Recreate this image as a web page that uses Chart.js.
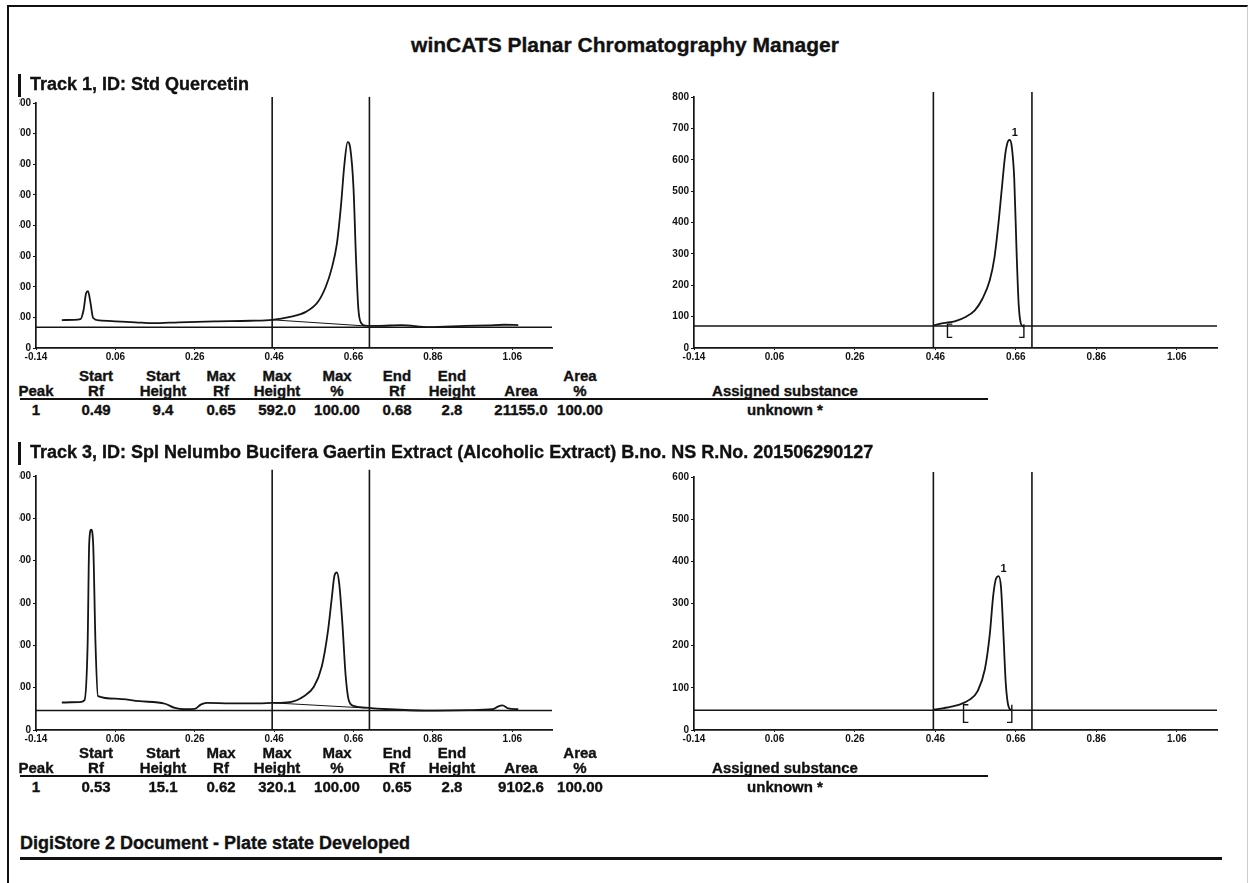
<!DOCTYPE html>
<html>
<head>
<meta charset="utf-8">
<script src="https://cdn.jsdelivr.net/npm/chart.js@4.4.0/dist/chart.umd.min.js"></script>
<style>
  body { margin: 0; width: 1250px; height: 883px; background: #fff; position: relative; overflow: hidden;
         font-family: "Liberation Sans", Arial, sans-serif; color: #111; }
  .frame { position: absolute; left: 7px; top: 5px; width: 1238px; height: 900px;
           border-left: 2px solid #111; border-top: 2px solid #111; border-right: 1px solid #ccc; }
  .txt { position: absolute; white-space: nowrap; font-weight: bold; -webkit-text-stroke: 0.35px #111; }
  .bar { position: absolute; left: 18px; width: 3px; background: #111; }
  .rule { position: absolute; background: #111; }
  canvas { position: absolute; }
</style>
</head>
<body>
<div class="frame"></div>
<canvas id="t1raw"></canvas>
<canvas id="t1peak"></canvas>
<canvas id="t3raw"></canvas>
<canvas id="t3peak"></canvas>

<script>
// Texts
const pageTitle = "winCATS Planar Chromatography Manager";
const track1Title = "Track 1, ID: Std Quercetin";
const track3Title = "Track 3, ID: Spl Nelumbo Bucifera Gaertin Extract (Alcoholic Extract) B.no. NS R.No. 201506290127";
const footerTitle = "DigiStore 2 Document - Plate state Developed";

// Axis ticks (Rf)
const xMin = -0.14;
const xMax = 1.16;
const xTicks = [-0.14, 0.06, 0.26, 0.46, 0.66, 0.86, 1.06];

// Integration window (vertical lines, Rf)
const windowRf = [0.455, 0.70];

// Track 1 - full scan
const t1RawRf  = [-0.075, -0.045, -0.028, -0.02, -0.014, -0.009, -0.003, 0.004, 0.02, 0.06, 0.11, 0.155, 0.22, 0.31, 0.40, 0.455,
                  0.50, 0.54, 0.57, 0.59, 0.605, 0.618, 0.628, 0.637, 0.645, 0.652, 0.66, 0.666, 0.672, 0.68, 0.69,
                  0.72, 0.78, 0.85, 0.94, 1.0, 1.04, 1.075];
const t1RawAU  = [91, 92, 94, 125, 178, 186, 150, 98, 90, 87, 84, 81, 84, 87, 89, 92,
                  102, 118, 150, 200, 260, 340, 460, 600, 672, 650, 520, 300, 130, 80, 73,
                  72, 75, 68, 72, 74, 76, 75];
const t1Baseline = 68;
const t1PeakBaseRf = [0.455, 0.69];
const t1PeakBaseAU = [92, 72];

// Track 1 - integrated peak
const t1PeakRf = [0.455, 0.48, 0.51, 0.535, 0.558, 0.577, 0.595, 0.607, 0.617, 0.626, 0.634, 0.641, 0.645, 0.65, 0.656, 0.662, 0.667, 0.672, 0.677, 0.68];
const t1PeakAU = [72, 79, 86, 99, 120, 157, 215, 290, 400, 520, 620, 660, 663, 640, 540, 300, 140, 80, 70, 67];
const t1PeakBaseline = 70;
const t1Bracket = { startRf: 0.49, endRf: 0.68, top: 76, bottom: 34 };
const t1PeakLabel = { rf: 0.645, value: 663, text: "1" };

// Track 3 - full scan
const t3RawRf = [-0.075, -0.03, -0.018, -0.01, -0.006, -0.001, 0.004, 0.01, 0.016, 0.06, 0.12, 0.185, 0.21, 0.235, 0.26, 0.275, 0.29,
                 0.35, 0.42, 0.455, 0.50, 0.535, 0.56, 0.58, 0.595, 0.605, 0.612, 0.618, 0.624, 0.632, 0.64, 0.648, 0.66,
                 0.69, 0.75, 0.84, 0.95, 1.01, 1.025, 1.035, 1.05, 1.075];
const t3RawAU = [65, 66, 70, 200, 440, 473, 440, 200, 80, 74, 68, 62, 52, 49, 50, 60, 64,
                 63, 63, 64, 66, 80, 102, 150, 230, 310, 365, 372, 345, 250, 130, 70, 57,
                 53, 49, 46, 47, 49, 56, 58, 51, 49];
const t3Baseline = 46;
const t3PeakBaseRf = [0.46, 0.69];
const t3PeakBaseAU = [64, 52];

// Track 3 - integrated peak
const t3PeakRf = [0.455, 0.497, 0.52, 0.545, 0.565, 0.583, 0.595, 0.604, 0.611, 0.617, 0.623, 0.629, 0.635, 0.642, 0.65];
const t3PeakAU = [48, 55, 60, 72, 92, 144, 225, 321, 360, 365, 340, 230, 110, 55, 46];
const t3PeakBaseline = 47;
const t3Bracket = { startRf: 0.53, endRf: 0.65, top: 60, bottom: 18 };
const t3PeakLabel = { rf: 0.617, value: 365, text: "1" };

// Peak tables
const tableHead1 = ["", "Start", "Start", "Max", "Max", "Max", "End", "End", "", "Area", ""];
const tableHead2 = ["Peak", "Rf", "Height", "Rf", "Height", "%", "Rf", "Height", "Area", "%", "Assigned substance"];
const track1Row  = ["1", "0.49", "9.4", "0.65", "592.0", "100.00", "0.68", "2.8", "21155.0", "100.00", "unknown *"];
const track3Row  = ["1", "0.53", "15.1", "0.62", "320.1", "100.00", "0.65", "2.8", "9102.6", "100.00", "unknown *"];

// ---- layout ----
const colX  = [36, 96, 163, 221, 277, 337, 397, 452, 521, 580, 785];
const FONT = '"Liberation Sans", Arial, sans-serif';

function addText(text, x, y, size, align) {
    const d = document.createElement("div");
    d.className = "txt";
    d.textContent = text;
    d.style.fontSize = size + "px";
    d.style.lineHeight = size + "px";
    d.style.top = (y - size / 2) + "px";
    if (align === "center") {
        d.style.left = (x - 300) + "px";
        d.style.width = "600px";
        d.style.textAlign = "center";
    } else {
        d.style.left = x + "px";
    }
    document.body.appendChild(d);
}

function addBox(cls, x, y, w, h) {
    const d = document.createElement("div");
    d.className = cls;
    d.style.left = x + "px";
    d.style.top = y + "px";
    d.style.width = w + "px";
    d.style.height = h + "px";
    document.body.appendChild(d);
}

function drawTable(row, yTop) {
    tableHead1.forEach((t, i) => { if (t) addText(t, colX[i], yTop, 15, "center"); });
    tableHead2.forEach((t, i) => addText(t, colX[i], yTop + 15, 15, "center"));
    addBox("rule", 20, yTop + 23, 968, 2);
    row.forEach((t, i) => addText(t, colX[i], yTop + 34, 15, "center"));
}

addText(pageTitle, 625, 44, 21, "center");
addBox("bar", 18, 74, 3, 23);
addText(track1Title, 30, 84, 18, "left");
drawTable(track1Row, 375);
addBox("bar", 18, 442, 3, 23);
addText(track3Title, 30, 452, 18, "left");
drawTable(track3Row, 752);
addText(footerTitle, 20, 843, 18, "left");
addBox("rule", 20, 857, 1202, 3);

// ---- charts ----
const peakLabelPlugin = {
    id: "peakLabel",
    afterDatasetsDraw(chart, args, opts) {
        if (!opts || opts.text === undefined) return;
        const { ctx, scales: { x, y } } = chart;
        ctx.save();
        ctx.font = "bold 11px " + FONT;
        ctx.fillStyle = "#111";
        ctx.textAlign = "center";
        ctx.textBaseline = "bottom";
        ctx.fillText(opts.text, x.getPixelForValue(opts.rf) + 5, y.getPixelForValue(opts.value) - 2);
        ctx.restore();
    }
};

function pts(xs, ys) {
    return xs.map((v, i) => ({ x: v, y: ys[i] }));
}

function lineSet(data, width, extra) {
    return Object.assign({
        data: data,
        borderColor: "#151515",
        borderWidth: width,
        pointRadius: 0,
        fill: false,
        clip: false
    }, extra || {});
}

function windowSets(top) {
    return windowRf.map(rf => lineSet([{ x: rf, y: 0 }, { x: rf, y: top }], 1.6));
}

function bracketSets(b) {
    const w = 0.012;
    return [
        lineSet([{ x: b.startRf + w, y: b.top }, { x: b.startRf, y: b.top }, { x: b.startRf, y: b.bottom }, { x: b.startRf + w, y: b.bottom }], 1.4),
        lineSet([{ x: b.endRf - w, y: b.bottom }, { x: b.endRf, y: b.bottom }, { x: b.endRf, y: b.top }], 1.4)
    ];
}

function makeChart(id, box, yMax, yWidth, datasets, label) {
    const cv = document.getElementById(id);
    cv.width = box.w;
    cv.height = box.h;
    cv.style.left = box.x + "px";
    cv.style.top = box.y + "px";
    cv.style.width = box.w + "px";
    cv.style.height = box.h + "px";
    const tickFont = { family: FONT, size: 10, weight: "bold" };
    return new Chart(cv, {
        type: "line",
        data: { datasets: datasets },
        options: {
            responsive: false,
            animation: false,
            events: [],
            layout: { padding: { top: box.padTop, right: 10, left: 0, bottom: 0 } },
            plugins: {
                legend: { display: false },
                tooltip: { enabled: false },
                peakLabel: label || {}
            },
            scales: {
                x: {
                    type: "linear",
                    min: xMin,
                    max: xMax,
                    afterBuildTicks: s => { s.ticks = xTicks.map(v => ({ value: v })); },
                    afterFit: s => { s.height = 17; },
                    border: { color: "#151515", width: 1.7 },
                    grid: { drawOnChartArea: false, tickLength: 2, color: "#151515" },
                    ticks: { autoSkip: false, maxRotation: 0, padding: 1, color: "#111", font: tickFont,
                             callback: v => v.toFixed(2) }
                },
                y: {
                    min: 0,
                    max: yMax,
                    afterFit: s => { s.width = yWidth; },
                    border: { color: "#151515", width: 1.7 },
                    grid: { drawOnChartArea: false, tickLength: 3, color: "#151515" },
                    ticks: { stepSize: 100, padding: 2, color: "#111", font: tickFont,
                             callback: v => String(v) }
                }
            }
        },
        plugins: [peakLabelPlugin]
    });
}

function flat(v) {
    return [{ x: xMin, y: v }, { x: xMax, y: v }];
}

function rawSets(rf, au, base, pbRf, pbAU, top) {
    return [
        lineSet(pts(rf, au), 1.8, { cubicInterpolationMode: "monotone" }),
        lineSet(flat(base), 1.4),
        lineSet(pts(pbRf, pbAU), 1.0)
    ].concat(windowSets(top));
}

function peakSets(rf, au, base, bracket, top) {
    return [
        lineSet(pts(rf, au), 1.8, { cubicInterpolationMode: "monotone" }),
        lineSet(flat(base), 1.4)
    ].concat(windowSets(top), bracketSets(bracket));
}

makeChart("t1raw",  { x: 19,  y: 90,  w: 543, h: 275, padTop: 13 }, 800, 17,
          rawSets(t1RawRf, t1RawAU, t1Baseline, t1PeakBaseRf, t1PeakBaseAU, 820));
makeChart("t1peak", { x: 655, y: 84,  w: 572, h: 281, padTop: 13 }, 800, 39,
          peakSets(t1PeakRf, t1PeakAU, t1PeakBaseline, t1Bracket, 816), t1PeakLabel);
makeChart("t3raw",  { x: 19,  y: 462, w: 543, h: 285, padTop: 14 }, 600, 17,
          rawSets(t3RawRf, t3RawAU, t3Baseline, t3PeakBaseRf, t3PeakBaseAU, 615));
makeChart("t3peak", { x: 655, y: 463, w: 572, h: 284, padTop: 14 }, 600, 39,
          peakSets(t3PeakRf, t3PeakAU, t3PeakBaseline, t3Bracket, 612), t3PeakLabel);
</script>
</body>
</html>
